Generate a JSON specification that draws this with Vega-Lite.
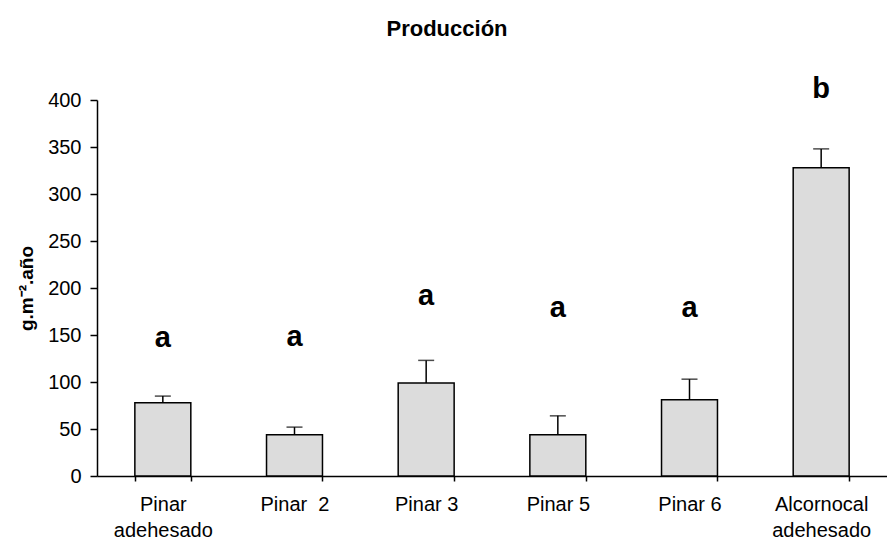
{
  "$schema": "https://vega.github.io/schema/vega-lite/v6.json",
  "autosize": {"type": "none"},
  "padding": {"left": 97, "top": 100, "right": 0, "bottom": 65},
  "width": 790,
  "height": 376,
  "background": "white",
  "config": {
    "view": {"stroke": null},
    "font": "Liberation Sans",
    "axis": {"grid": false, "domainColor": "black", "tickColor": "black", "labelColor": "black", "titleColor": "black", "domainWidth": 1.5, "tickWidth": 1.5}
  },
  "title": {
    "text": "Producción",
    "fontSize": 22,
    "fontWeight": "bold",
    "font": "Liberation Sans",
    "color": "black",
    "offset": 34,
    "dx": -45
  },
  "data": {
    "values": [
      {"site": "Pinar\nadehesado", "value": 78, "upper": 85, "letter": "a", "letterPos": 147},
      {"site": "Pinar\u00a0 2", "value": 44, "upper": 52, "letter": "a", "letterPos": 148},
      {"site": "Pinar 3", "value": 99, "upper": 123, "letter": "a", "letterPos": 192},
      {"site": "Pinar 5", "value": 44, "upper": 64, "letter": "a", "letterPos": 179},
      {"site": "Pinar 6", "value": 81, "upper": 103, "letter": "a", "letterPos": 179},
      {"site": "Alcornocal\nadehesado", "value": 328, "upper": 348, "letter": "b", "letterPos": 412}
    ]
  },
  "encoding": {
    "x": {
      "field": "site",
      "type": "nominal",
      "sort": null,
      "scale": {"paddingInner": 0.575, "paddingOuter": 0.2875},
      "axis": {
        "title": null,
        "labelAngle": 0,
        "labelFontSize": 20,
        "labelExpr": "split(datum.label, '\\n')",
        "labelLineHeight": 26,
        "labelPadding": 29,
        "tickBand": "extent",
        "tickSize": 5,
        "labelBaseline": "alphabetic"
      }
    }
  },
  "layer": [
    {
      "mark": {"type": "bar", "fill": "#dcdcdc", "stroke": "black", "strokeWidth": 1.5},
      "encoding": {
        "y": {
          "field": "value",
          "type": "quantitative",
          "scale": {"domain": [0, 400]},
          "axis": {
            "title": "g.m⁻².año",
            "titleFontSize": 19,
            "titleFontWeight": "bold",
            "titlePadding": 11,
            "values": [0, 50, 100, 150, 200, 250, 300, 350, 400],
            "labelFontSize": 20,
            "tickSize": 7,
            "labelPadding": 9
          }
        }
      }
    },
    {
      "mark": {"type": "rule", "color": "black", "strokeWidth": 1.5},
      "encoding": {
        "y": {"field": "value", "type": "quantitative"},
        "y2": {"field": "upper"}
      }
    },
    {
      "mark": {"type": "tick", "orient": "horizontal", "color": "black", "size": 16, "thickness": 1.5},
      "encoding": {
        "y": {"field": "upper", "type": "quantitative"}
      }
    },
    {
      "mark": {"type": "text", "fontSize": 29, "fontWeight": "bold", "baseline": "middle", "color": "black", "clip": false},
      "encoding": {
        "y": {"field": "letterPos", "type": "quantitative"},
        "text": {"field": "letter"}
      }
    }
  ]
}
